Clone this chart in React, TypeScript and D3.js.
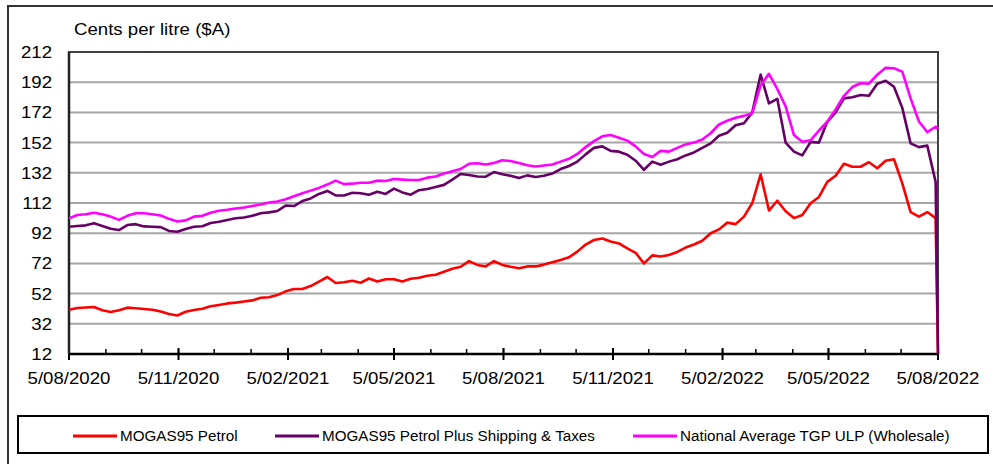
import React, { useEffect, useRef } from "react";
import * as d3 from "d3";

// weekly readings from 5/08/2020, last entry is 5/08/2022
const mogasPetrol = [
  41.3, 42.5, 42.8, 43.1, 41, 39.8, 41, 42.7, 42.3, 41.8, 41.3, 40.2, 38.5, 37.5, 40, 41.1, 42, 43.6, 44.5, 45.5,
  46, 46.8, 47.5, 49.2, 49.6, 51, 53.5, 55, 55, 57, 60, 63, 59, 59.5, 60.5, 59.2, 62, 60, 61.5, 61.5,
  60, 61.8, 62.5, 63.8, 64.5, 66.5, 68.5, 69.8, 73.5, 71, 70, 73.5, 71, 69.8, 68.8, 70, 70, 71.2, 72.7, 74.3,
  76, 79.8, 84.5, 87.5, 88.5, 86.5, 85.2, 82, 79, 72, 77.3, 76.6, 77.6, 79.6, 82.5, 84.5, 87, 92, 94.5, 99,
  98, 103, 112, 131, 107, 113.5, 106.5, 102, 104, 111.8, 116, 126, 130, 138, 136, 136, 139, 135, 140, 141,
  125, 106, 103, 106, 102, 12,
];

const mogasPlusShipping = [
  96.3, 96.8, 97.2, 98.6, 96.8, 95, 94.1, 97.4, 98, 96.5, 96.3, 96, 93.5, 93, 94.8, 96.3, 96.6, 98.8, 99.6, 100.7,
  101.9, 102.4, 103.5, 105.2, 105.8, 106.7, 110.3, 110, 113.3, 115, 118, 120, 117, 117, 118.8, 118.5, 117.5, 119.5, 118, 121.5,
  119, 117.5, 120.5, 121.3, 122.6, 124, 127.5, 131.2, 130.5, 129.5, 129.4, 132.5, 131, 130, 128.5, 130.3, 129.2, 130, 131.5, 134.5,
  136.5, 139.4, 144.2, 148.5, 149.5, 146.5, 146, 144, 140, 134, 139.4, 137.3, 139.4, 141, 143.5, 145.5, 148.5, 151.5, 156.5, 158.5,
  163.5, 164.8, 172, 197, 178, 181, 152, 146, 143.5, 152.5, 152, 165.8, 172, 181.3, 182, 183.5, 183, 191, 193, 189,
  175, 151.5, 149, 150, 126, 12,
];

const tgpUlp = [
  101.8, 104, 104.5, 105.5, 104.5, 103, 100.8, 103.5, 105.2, 105.2, 104.5, 103.7, 101.5, 99.8, 100.5, 103, 103.5, 105.5, 106.9, 107.5,
  108.3, 109, 110, 111, 112.3, 113, 114.5, 116.5, 118.5, 120.2, 122, 124.2, 126.8, 124.5, 124.8, 125.4, 125.4, 126.8, 126.6, 127.9,
  127.5, 127.2, 127.2, 128.8, 129.5, 131.5, 133, 134.5, 138, 138.3, 137.5, 138.5, 140.3, 139.8, 138.5, 137, 136.2, 136.8, 137.5, 139.4,
  141.3, 144.5, 149, 153, 156.2, 157, 155.2, 153.3, 149.5, 144.5, 142.5, 146.5, 146, 148.5, 150.8, 152, 154, 158.2, 164, 166.5,
  168.5, 169.7, 171.5, 190, 197.5, 187.5, 176, 157, 152.5, 153.5, 160, 165.8, 174, 183, 188.8, 191.3, 191, 197, 201.5, 201.2,
  199, 181.3, 166, 159, 162.5, 161,
];

const yTicks = [12, 32, 52, 72, 92, 112, 132, 152, 172, 192, 212];
const xTickLabels = [
  "5/08/2020", "5/11/2020", "5/02/2021", "5/05/2021", "5/08/2021",
  "5/11/2021", "5/02/2022", "5/05/2022", "5/08/2022",
];

const seriesNames = [
  "MOGAS95 Petrol",
  "MOGAS95 Petrol Plus Shipping & Taxes",
  "National Average TGP ULP (Wholesale)",
];
const seriesColors = ["#ff0000", "#660066", "#ff00ff"];

const App: React.FC = () => {
  const ref = useRef<SVGSVGElement>(null);

  useEffect(() => {
    if (!ref.current) return;
    const svg = d3.select(ref.current);
    svg.selectAll("*").remove();

    const W = 993;
    const H = 464;
    const plot = { left: 69, right: 938, top: 52, bottom: 354 };
    const font = "'Liberation Sans', Arial, sans-serif";
    const sx = 1.13; // the source picture is a little stretched sideways

    const parse = d3.timeParse("%d/%m/%Y");
    const start = parse(xTickLabels[0]) as Date;
    const end = parse(xTickLabels[xTickLabels.length - 1]) as Date;
    const dates = d3
      .range(mogasPetrol.length - 1)
      .map((i) => d3.timeDay.offset(start, 7 * i))
      .concat([end]);

    const x = d3.scaleTime().domain([start, end]).range([plot.left, plot.right]);
    const y = d3.scaleLinear().domain([12, 212]).range([plot.bottom, plot.top]);

    svg.attr("width", W).attr("height", H);
    svg.append("rect").attr("width", W).attr("height", H).attr("fill", "#fff");

    // outer frame
    svg
      .append("path")
      .attr("d", `M8,${H + 2} L8,6 L${W + 2},6`)
      .attr("fill", "none")
      .attr("stroke", "#333")
      .attr("stroke-width", 2);

    // unit label
    svg
      .append("text")
      .attr("transform", `translate(74,35) scale(${sx},1)`)
      .attr("font-family", font)
      .attr("font-size", 16.5)
      .attr("fill", "#000")
      .text("Cents per litre ($A)");

    // grid lines
    svg
      .append("g")
      .selectAll("line")
      .data(yTicks)
      .enter()
      .append("line")
      .attr("x1", plot.left)
      .attr("x2", plot.right)
      .attr("y1", (d) => y(d))
      .attr("y2", (d) => y(d))
      .attr("stroke", "#a6a6a6")
      .attr("stroke-width", 2);

    // y labels
    svg
      .append("g")
      .selectAll("text")
      .data(yTicks)
      .enter()
      .append("text")
      .attr("transform", (d) => `translate(52,${y(d) + 6}) scale(${sx},1)`)
      .attr("text-anchor", "end")
      .attr("font-family", font)
      .attr("font-size", 16.5)
      .text((d) => d);

    // plot frame
    svg
      .append("rect")
      .attr("x", plot.left)
      .attr("y", plot.top)
      .attr("width", plot.right - plot.left)
      .attr("height", plot.bottom - plot.top)
      .attr("fill", "none")
      .attr("stroke", "#404040")
      .attr("stroke-width", 2);

    // x axis
    const months = d3.timeMonth.range(start, d3.timeDay.offset(end, 1)).map((m) => new Date(m.getFullYear(), m.getMonth(), 5));
    svg
      .append("g")
      .selectAll("line")
      .data(months)
      .enter()
      .append("line")
      .attr("x1", (d) => x(d))
      .attr("x2", (d) => x(d))
      .attr("y1", plot.bottom - 5)
      .attr("y2", plot.bottom)
      .attr("stroke", "#000")
      .attr("stroke-width", 1.5);

    const majors = xTickLabels.map((s) => parse(s) as Date);
    svg
      .append("g")
      .selectAll("line")
      .data(majors)
      .enter()
      .append("line")
      .attr("x1", (d) => x(d))
      .attr("x2", (d) => x(d))
      .attr("y1", plot.bottom - 6)
      .attr("y2", plot.bottom + 6)
      .attr("stroke", "#000")
      .attr("stroke-width", 2);

    svg
      .append("line")
      .attr("x1", plot.left)
      .attr("x2", plot.right)
      .attr("y1", plot.bottom)
      .attr("y2", plot.bottom)
      .attr("stroke", "#000")
      .attr("stroke-width", 2.5);
    svg
      .append("line")
      .attr("x1", plot.left)
      .attr("x2", plot.left)
      .attr("y1", plot.top)
      .attr("y2", plot.bottom)
      .attr("stroke", "#222")
      .attr("stroke-width", 2.5);

    svg
      .append("g")
      .selectAll("text")
      .data(xTickLabels)
      .enter()
      .append("text")
      .attr("transform", (d) => `translate(${x(parse(d) as Date)},384) scale(${sx},1)`)
      .attr("text-anchor", "middle")
      .attr("font-family", font)
      .attr("font-size", 16.5)
      .text((d) => d);

    // lines
    const series = [mogasPetrol, mogasPlusShipping, tgpUlp];
    const line = d3
      .line<number>()
      .x((_, i) => x(dates[i]))
      .y((d) => y(d));

    series.forEach((values, k) => {
      svg
        .append("path")
        .datum(values)
        .attr("d", line)
        .attr("fill", "none")
        .attr("stroke", seriesColors[k])
        .attr("stroke-width", 2.6)
        .attr("stroke-linejoin", "round");
    });

    // legend
    svg
      .append("rect")
      .attr("x", 18)
      .attr("y", 416)
      .attr("width", 970)
      .attr("height", 37)
      .attr("fill", "#fff")
      .attr("stroke", "#000")
      .attr("stroke-width", 2);

    const legendX = [73, 275, 633];
    seriesNames.forEach((name, k) => {
      const g = svg.append("g").attr("transform", `translate(${legendX[k]},436)`);
      g.append("line")
        .attr("x1", 0)
        .attr("x2", 44)
        .attr("y1", 0)
        .attr("y2", 0)
        .attr("stroke", seriesColors[k])
        .attr("stroke-width", 3);
      g.append("text")
        .attr("transform", `translate(47,5) scale(1.05,1)`)
        .attr("font-family", font)
        .attr("font-size", 14.5)
        .text(name);
    });
  }, []);

  return (
    <svg
      ref={ref}
      style={{ position: "absolute", left: 0, top: 0, display: "block" }}
      width={993}
      height={464}
    />
  );
};

export default App;
